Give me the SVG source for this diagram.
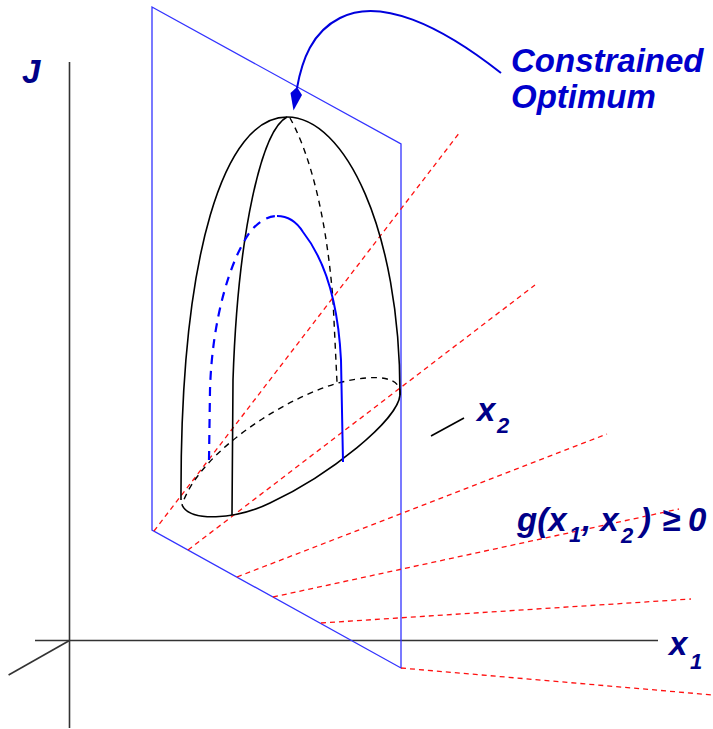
<svg xmlns="http://www.w3.org/2000/svg" width="713" height="729" viewBox="0 0 713 729">
<style>
.ax{stroke:#333;stroke-width:1.6;fill:none}
.pl{stroke:#3333ff;stroke-width:1.3;fill:none}
.rd{stroke:#ff1010;stroke-width:1.3;stroke-dasharray:5 4;fill:none}
.bk{stroke:#000;stroke-width:1.6;fill:none}
.bkd{stroke:#000;stroke-width:1.4;fill:none;stroke-dasharray:6 5}
.bl{stroke:#0000ff;stroke-width:2;fill:none}
.bld{stroke:#0000ff;stroke-width:2.2;fill:none;stroke-dasharray:9 7}
.t{font-family:"Liberation Sans",Arial,sans-serif;font-weight:bold;font-style:italic;font-size:33px;fill:#000088}
.s{font-size:22px}
</style>
<rect width="713" height="729" fill="#fff"/>
<g id="axes">
<line class="ax" x1="69.5" y1="62" x2="69.5" y2="728"/>
<line class="ax" x1="35" y1="640.5" x2="658" y2="640.5"/>
<line class="ax" x1="69.5" y1="640.5" x2="8.6" y2="675"/>
<line class="bk" x1="431" y1="436" x2="464" y2="418"/>
</g>
<g id="plane">
<polygon class="pl" points="152,7 401,144 401,668 152,530"/>
</g>
<g id="constraint-lines">
<line class="rd" x1="154" y1="531" x2="460" y2="132"/>
<line class="rd" x1="188" y1="550" x2="535" y2="285"/>
<line class="rd" x1="237" y1="577" x2="607" y2="434"/>
<line class="rd" x1="273" y1="597" x2="679" y2="509"/>
<line class="rd" x1="321" y1="623" x2="691" y2="599"/>
<line class="rd" x1="401" y1="668" x2="713" y2="695"/>
</g>
<g id="dome">
<path class="bk" d="M287,117 C345,117 400,230 400,395"/>
<path class="bk" d="M287,117 C225,117 180,250 181,500"/>
<path class="bk" d="M400,395 C398,420 330,475 270,503 C235,520 190,522 182,505"/>
<path class="bkd" d="M400,395 C402,378 380,373 342,382 C290,395 200,450 182,505"/>
<path class="bk" d="M287,117 C262,130 238,230 233,380 L232,515"/>
<path class="bkd" d="M290,118 C305,145 325,200 333,300 L337,382"/>
<path class="bld" d="M209,460 L210,390 C212,320 230,260 250,232 C258,222 268,216 277,216"/>
<path class="bl" d="M277,216 C290,216 298,224 303,232 C325,260 338,300 341,360 L343,462"/>
</g>
<g id="callout">
<path d="M501,73 C440,25 380,-3 340,18 C312,32 302,60 297,88" fill="none" stroke="#0000dd" stroke-width="2"/>
<polygon points="297,87 302,95 293.5,110.5 290.5,93" fill="#0000dd"/>
<text class="t" x="511" y="72" style="fill:#0000cc">Constrained</text>
<text class="t" x="511" y="108" style="fill:#0000cc">Optimum</text>
</g>
<g id="labels">
<text class="t" x="22" y="83">J</text>
<text class="t" x="477" y="421">x<tspan class="s" x="497" dy="12">2</tspan></text>
<text class="t" x="669" y="655">x<tspan class="s" x="690" dy="14">1</tspan></text>
<text class="t" y="531"><tspan x="517">g(x</tspan><tspan class="s" x="569" dy="11">1</tspan><tspan x="582" dy="-11">, x</tspan><tspan class="s" x="621" dy="12">2</tspan><tspan x="640" dy="-12">)</tspan><tspan x="662">≥</tspan><tspan x="688">0</tspan></text>
</g>
</svg>
